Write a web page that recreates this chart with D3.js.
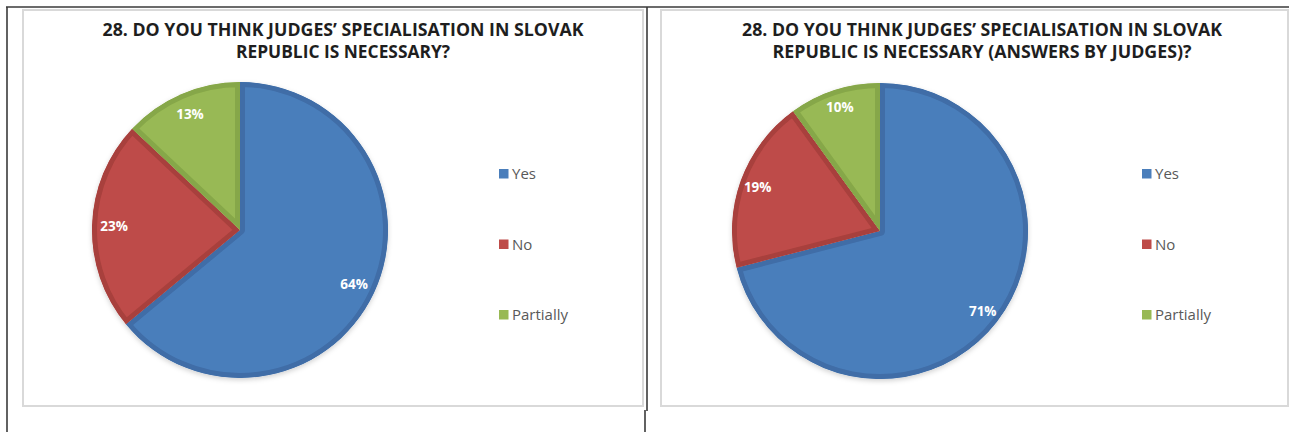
<!DOCTYPE html>
<html>
<head>
<meta charset="utf-8">
<script src="https://cdn.jsdelivr.net/npm/d3@7"></script>
<style>
  html, body { margin: 0; padding: 0; background: #ffffff; }
  svg { display: block; }
</style>
</head>
<body>
<svg id="chart" width="1289" height="432"></svg>
<script>
// Survey answers, question 28
const categories = ["Yes", "No", "Partially"];
const allRespondents = [64, 23, 13];
const judgesOnly = [71, 19, 10];
const titleAll = ["28. DO YOU THINK JUDGES\u2019 SPECIALISATION IN SLOVAK", "REPUBLIC IS NECESSARY?"];
const titleJudges = ["28. DO YOU THINK JUDGES\u2019 SPECIALISATION IN SLOVAK", "REPUBLIC IS NECESSARY (ANSWERS BY JUDGES)?"];

const fills   = ["#4a7ebb", "#be4b48", "#98b954"];
const borders = ["#3f6da7", "#a8403d", "#86a748"];

const svg = d3.select("#chart");
const defs = svg.append("defs");

defs.append("filter").attr("id", "pieShadow")
  .attr("x", "-10%").attr("y", "-10%").attr("width", "120%").attr("height", "125%")
  .append("feDropShadow")
  .attr("dx", 0).attr("dy", 2).attr("stdDeviation", 2.5)
  .attr("flood-color", "#000").attr("flood-opacity", 0.18);

// page rules
const rule = svg.append("g").attr("stroke", "#3a3a3a").attr("stroke-width", 1.6);
rule.append("line").attr("x1", 6).attr("x2", 1289).attr("y1", 7).attr("y2", 7);
rule.append("line").attr("x1", 7).attr("x2", 7).attr("y1", 7).attr("y2", 432);
rule.append("line").attr("x1", 647).attr("x2", 647).attr("y1", 7).attr("y2", 411);
rule.append("line").attr("x1", 645).attr("x2", 645).attr("y1", 410).attr("y2", 432);

const colour = d3.scaleOrdinal().domain(categories).range(fills);
const edge = d3.scaleOrdinal().domain(categories).range(borders);

const pie = d3.pie().sort(null).value(d => d.value);

function drawPanel(cfg) {
  const g = svg.append("g");

  // chart frame
  g.append("rect")
    .attr("x", cfg.box[0]).attr("y", cfg.box[1])
    .attr("width", cfg.box[2]).attr("height", cfg.box[3])
    .attr("fill", "#ffffff").attr("stroke", "#d9d9d9").attr("stroke-width", 2);

  // title
  const title = g.append("g")
    .attr("font-family", "'Open Sans', 'DejaVu Sans', sans-serif")
    .attr("font-weight", 700).attr("font-size", 17.5).attr("fill", "#1e1e1e")
    .attr("text-anchor", "middle");
  cfg.title.forEach((line, i) => {
    title.append("text")
      .attr("x", cfg.titleX).attr("y", 36 + i * 22)
      .attr("textLength", cfg.titleWidths[i])
      .attr("lengthAdjust", "spacingAndGlyphs")
      .text(line);
  });

  const data = categories.map((c, i) => ({ category: c, value: cfg.values[i] }));
  const arcs = pie(data);
  const r = 148;
  const arc = d3.arc().innerRadius(0).outerRadius(r);
  const labelArc = d3.arc().innerRadius(cfg.labelR).outerRadius(cfg.labelR);

  const pieG = g.append("g")
    .attr("transform", `translate(${cfg.cx},${cfg.cy})`)
    .attr("filter", "url(#pieShadow)");

  // each slice keeps its darker outline on the inside only
  arcs.forEach((a, i) => {
    defs.append("clipPath").attr("id", `${cfg.id}-clip-${i}`)
      .append("path").attr("d", arc(a));
  });

  const slices = pieG.append("g");
  slices.selectAll("path.slice")
    .data(arcs)
    .join("path")
    .attr("class", "slice")
    .attr("d", arc)
    .attr("clip-path", (d, i) => `url(#${cfg.id}-clip-${i})`)
    .attr("fill", d => colour(d.data.category))
    .attr("stroke", d => edge(d.data.category))
    .attr("stroke-width", 10)
    .attr("stroke-linejoin", "round");

  g.append("g")
    .attr("transform", `translate(${cfg.cx},${cfg.cy})`)
    .selectAll("text.value")
    .data(arcs)
    .join("text")
    .attr("class", "value")
    .attr("transform", d => `translate(${labelArc.centroid(d)})`)
    .attr("text-anchor", "middle")
    .attr("dy", "0.36em")
    .attr("font-family", "'Open Sans', 'DejaVu Sans', sans-serif")
    .attr("font-weight", 700).attr("font-size", 13.5)
    .attr("fill", "#ffffff")
    .text(d => d.data.value + "%");

  // legend
  const legendY = d3.scalePoint().domain(categories).range([179, 320]);
  const legend = g.append("g")
    .attr("font-family", "'Open Sans', 'DejaVu Sans', sans-serif")
    .attr("font-size", 15).attr("fill", "#595959");
  const item = legend.selectAll("g")
    .data(categories)
    .join("g")
    .attr("transform", c => `translate(${cfg.legendX},${legendY(c)})`);
  item.append("rect")
    .attr("x", 0).attr("y", -10).attr("width", 9.5).attr("height", 9.5)
    .attr("fill", c => colour(c));
  item.append("text")
    .attr("x", 13).attr("y", 0)
    .text(c => c);
}

drawPanel({
  id: "all", box: [23, 10, 620, 396],
  title: titleAll, titleX: 343, titleWidths: [481, 214],
  values: allRespondents, cx: 240, cy: 230, labelR: 126,
  legendX: 499
});

drawPanel({
  id: "judges", box: [661, 10, 627, 396],
  title: titleJudges, titleX: 982, titleWidths: [480, 419],
  values: judgesOnly, cx: 880, cy: 231, labelR: 130,
  legendX: 1142
});
</script>
</body>
</html>
